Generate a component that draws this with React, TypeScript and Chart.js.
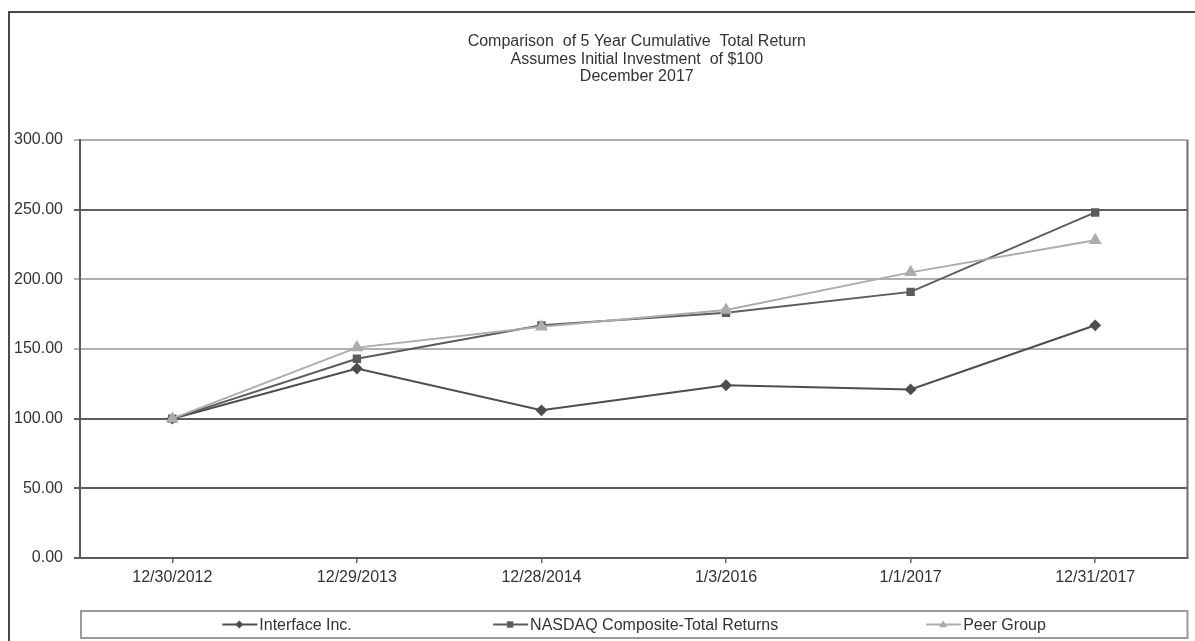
import React, { useEffect, useRef } from "react";
import { Chart, registerables } from "chart.js";

Chart.register(...registerables);

const categories = ["12/30/2012", "12/29/2013", "12/28/2014", "1/3/2016", "1/1/2017", "12/31/2017"];
const interfaceInc = [100, 136, 106, 124, 121, 167];
const nasdaq = [100, 143, 167, 176, 191, 248];
const peerGroup = [100, 151, 166, 178, 205, 228];
const titleLines = [
  "Comparison  of 5 Year Cumulative  Total Return",
  "Assumes Initial Investment  of $100",
  "December 2017",
];
const seriesNames = ["Interface Inc.", "NASDAQ Composite-Total Returns", "Peer Group"];

const FONT = "'Liberation Sans', Arial, sans-serif";
const FS = 16;

function drawMarker(ctx: CanvasRenderingContext2D, style: string, x: number, y: number, r: number, color: string) {
  ctx.save();
  ctx.fillStyle = color;
  ctx.beginPath();
  if (style === "rectRot") {
    ctx.moveTo(x, y - r);
    ctx.lineTo(x + r, y);
    ctx.lineTo(x, y + r);
    ctx.lineTo(x - r, y);
  } else if (style === "rect") {
    ctx.rect(x - r * 0.8, y - r * 0.8, r * 1.6, r * 1.6);
  } else {
    ctx.moveTo(x, y - r);
    ctx.lineTo(x + r, y + r * 0.7);
    ctx.lineTo(x - r, y + r * 0.7);
  }
  ctx.closePath();
  ctx.fill();
  ctx.restore();
}

const decorPlugin = {
  id: "decor",
  beforeDraw(chart: any) {
    const ctx = chart.ctx as CanvasRenderingContext2D;
    const w = chart.width;
    const h = chart.height;
    ctx.save();
    ctx.fillStyle = "#ffffff";
    ctx.fillRect(0, 0, w, h);
    ctx.strokeStyle = "#4a4a4a";
    ctx.lineWidth = 2;
    ctx.beginPath();
    ctx.moveTo(1, h);
    ctx.lineTo(1, 4);
    ctx.lineTo(w, 4);
    ctx.stroke();
    ctx.fillStyle = "#333333";
    ctx.font = `${FS}px ${FONT}`;
    ctx.textAlign = "center";
    ctx.textBaseline = "middle";
    const a = chart.chartArea;
    const cx = (a.left + a.right) / 2 + 3;
    titleLines.forEach((t, i) => ctx.fillText(t, cx, 34 + i * 17.5));
    ctx.restore();
  },
  afterDraw(chart: any) {
    const ctx = chart.ctx as CanvasRenderingContext2D;
    const a = chart.chartArea;
    ctx.save();
    ctx.strokeStyle = "#6a6a6a";
    ctx.lineWidth = 2;
    ctx.beginPath();
    ctx.moveTo(a.right, a.top);
    ctx.lineTo(a.right, a.bottom);
    ctx.stroke();
    const top = a.bottom + 53;
    const bh = 27;
    ctx.strokeStyle = "#9a9a9a";
    ctx.lineWidth = 2;
    ctx.strokeRect(a.left + 1, top, a.right - a.left - 1, bh);
    const fr = [0.1285, 0.373, 0.764];
    const cy = top + bh / 2;
    chart.data.datasets.forEach((ds: any, i: number) => {
      const x0 = a.left + (a.right - a.left) * fr[i];
      ctx.strokeStyle = ds.borderColor;
      ctx.lineWidth = 2;
      ctx.beginPath();
      ctx.moveTo(x0, cy);
      ctx.lineTo(x0 + 35, cy);
      ctx.stroke();
      drawMarker(ctx, ds.pointStyle, x0 + 17, cy, 4, ds.borderColor);
      ctx.fillStyle = "#333333";
      ctx.font = `${FS}px ${FONT}`;
      ctx.textAlign = "left";
      ctx.textBaseline = "middle";
      ctx.fillText(seriesNames[i], x0 + 37, cy + 1);
    });
    ctx.restore();
  },
};

export default function App() {
  const ref = useRef<HTMLCanvasElement | null>(null);
  useEffect(() => {
    if (!ref.current) return;
    const chart = new Chart(ref.current, {
      type: "line",
      data: {
        labels: categories,
        datasets: [
          {
            label: seriesNames[0],
            data: interfaceInc,
            borderColor: "#4e4e4e",
            backgroundColor: "#4e4e4e",
            pointStyle: "rectRot",
            pointRadius: 4.5,
            borderWidth: 2,
            order: 1,
          },
          {
            label: seriesNames[1],
            data: nasdaq,
            borderColor: "#5c5c5c",
            backgroundColor: "#5c5c5c",
            pointStyle: "rect",
            pointRadius: 4.5,
            borderWidth: 2,
            order: 2,
          },
          {
            label: seriesNames[2],
            data: peerGroup,
            borderColor: "#acacac",
            backgroundColor: "#acacac",
            pointStyle: "triangle",
            pointRadius: 5.5,
            borderWidth: 2,
            order: 0,
          },
        ],
      },
      plugins: [decorPlugin],
      options: {
        animation: false,
        responsive: false,
        maintainAspectRatio: false,
        layout: { padding: { top: 132, right: 2, left: 0, bottom: 0 } },
        plugins: {
          legend: { display: false },
          title: { display: false },
          tooltip: { enabled: false },
        },
        scales: {
          x: {
            type: "category",
            offset: true,
            grid: {
              offset: false,
              drawOnChartArea: false,
              drawTicks: true,
              tickLength: 5,
              color: "#666666",
              lineWidth: 1.5,
            },
            border: { display: true, color: "#5a5a5a", width: 2 },
            ticks: {
              color: "#333333",
              font: { family: FONT, size: FS },
              padding: 5,
              maxRotation: 0,
              autoSkip: false,
            },
            afterFit: (s: any) => {
              s.height = 83;
            },
          },
          y: {
            min: 0,
            max: 300,
            ticks: {
              stepSize: 50,
              color: "#333333",
              font: { family: FONT, size: FS },
              padding: 11,
              callback: (v: any) => Number(v).toFixed(2),
            },
            grid: {
              tickLength: 6,
              lineWidth: 2,
              color: (c: any) => {
                const v = c.tick ? c.tick.value : 0;
                if (v === 300 || v === 200 || v === 150) return "#b0b0b0";
                return "#5e5e5e";
              },
            },
            border: { display: true, color: "#5a5a5a", width: 2 },
            afterFit: (s: any) => {
              s.width = 72;
            },
          },
        },
      },
    });
    return () => chart.destroy();
  }, []);
  return (
    <div style={{ position: "fixed", left: 8, top: 8, width: 1187, height: 633, overflow: "hidden" }}>
      <canvas ref={ref} width={1187} height={633} style={{ display: "block", width: 1187, height: 633 }} />
    </div>
  );
}
